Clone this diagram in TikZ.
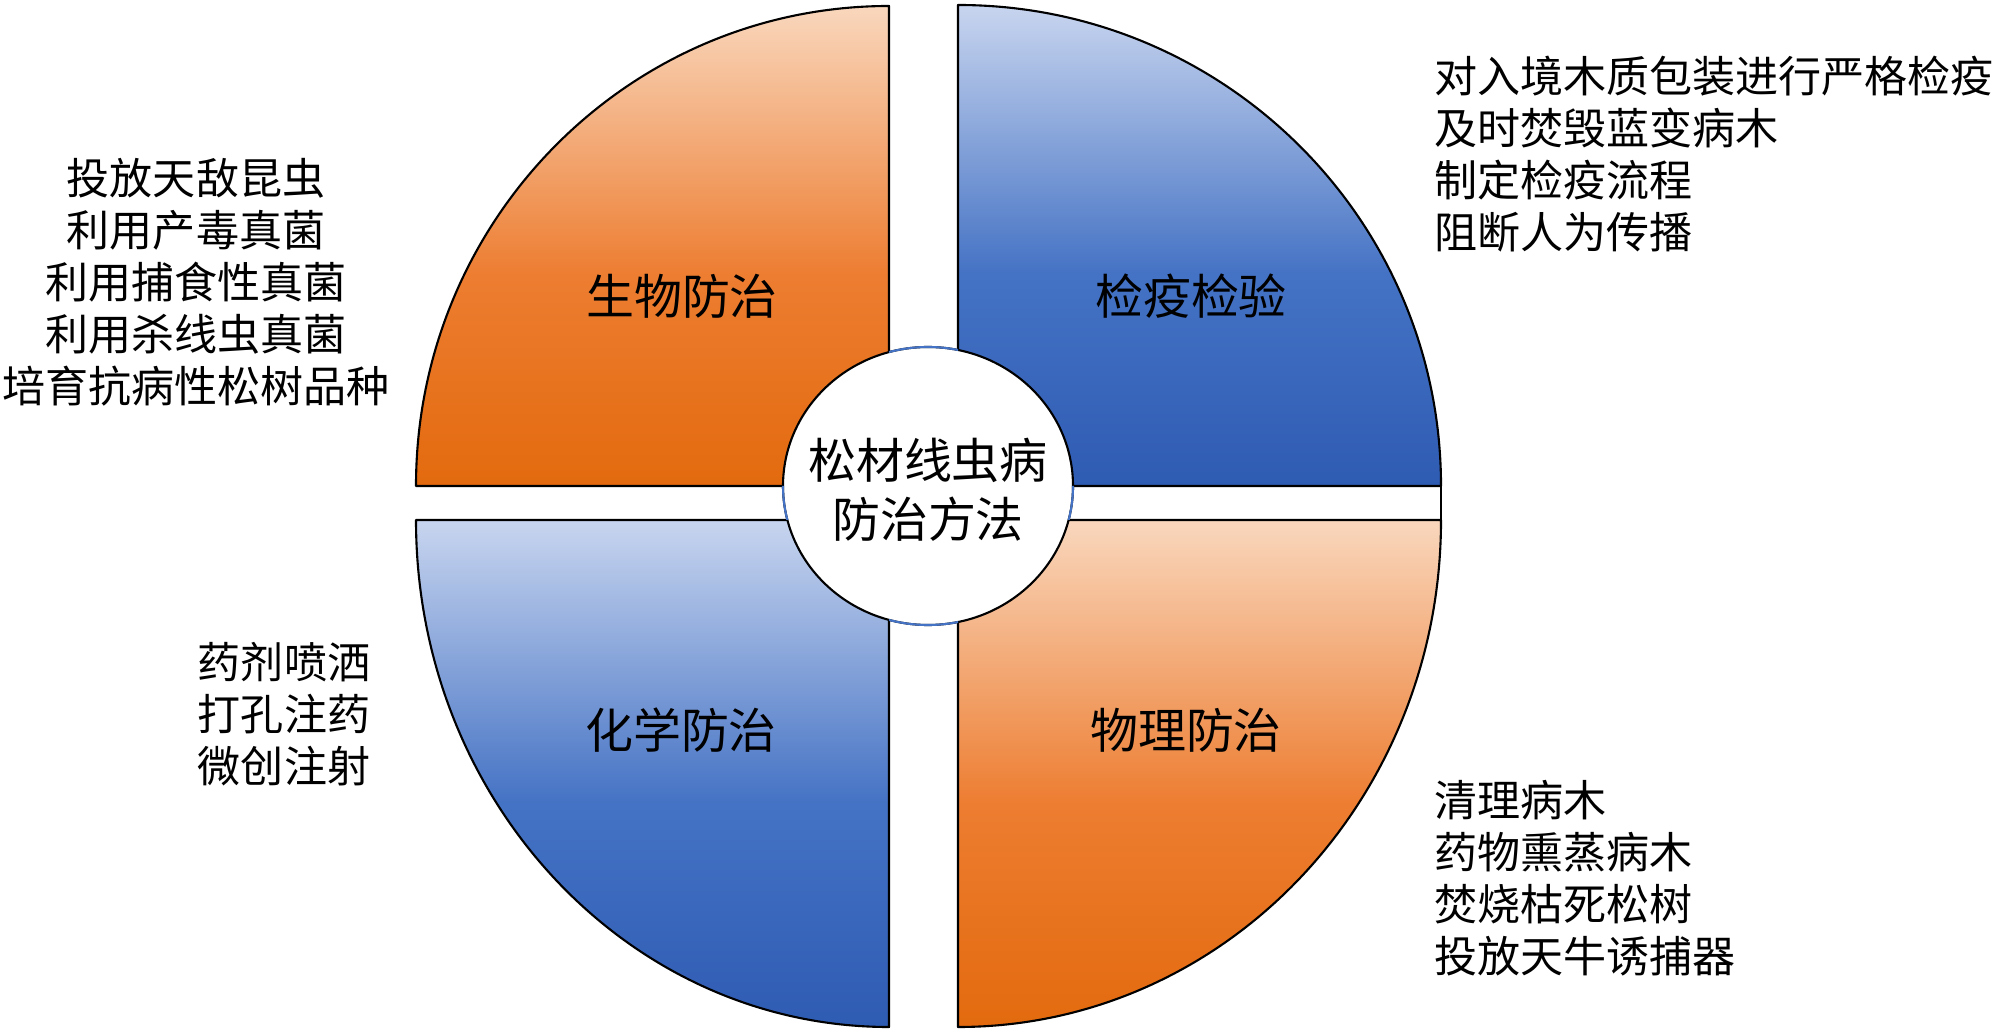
\documentclass[tikz,border=0pt]{standalone}
\usepackage{fontspec}
\newfontfamily\cjk{Noto Sans CJK SC}
\definecolor{orgtop}{HTML}{F9D7BD}
\definecolor{orgmid}{HTML}{ED7D31}
\definecolor{orgbot}{HTML}{E36A0E}
\definecolor{blutop}{HTML}{C8D5EF}
\definecolor{blumid}{HTML}{4472C4}
\definecolor{blubot}{HTML}{2F5CB3}
\definecolor{ringblue}{HTML}{4472C4}
\pgfdeclareverticalshading{orangefade}{100bp}{color(0bp)=(orgbot); color(25bp)=(orgbot); color(47bp)=(orgmid); color(75bp)=(orgtop); color(100bp)=(orgtop)}
\pgfdeclareverticalshading{bluefade}{100bp}{color(0bp)=(blubot); color(25bp)=(blubot); color(47bp)=(blumid); color(75bp)=(blutop); color(100bp)=(blutop)}
\begin{document}
\begin{tikzpicture}[x=0.02cm, y=0.02cm,
    quad/.style={draw=black, line width=1.2pt, line join=round},
    orangequad/.style={quad, shading=orangefade},
    bluequad/.style={quad, shading=bluefade},
    sectlabel/.style={font=\cjk\fontsize{27.3}{33.5}\selectfont, align=center, inner sep=0pt},
    itemlist/.style={font=\cjk\fontsize{24.5}{29.6}\selectfont, inner sep=0pt}]
    \useasboundingbox (0,0) rectangle (2000,1031);

    % The four quadrants
    \path[orangequad] (889,545) -- (889,1025) arc[start angle=90, end angle=180, x radius=473, y radius=480] -- cycle;
    \path[bluequad] (958,545) -- (1441,545) arc[start angle=0, end angle=90, x radius=483, y radius=481] -- cycle;
    \path[bluequad] (889,511) -- (416,511) arc[start angle=180, end angle=270, x radius=473, y radius=507] -- cycle;
    \path[orangequad] (958,511) -- (958,4) arc[start angle=270, end angle=360, x radius=483, y radius=507] -- cycle;
    \draw[line width=1.2pt] (1441,545) -- (1441,511);

    % Hub in the middle
    \coordinate (ctr) at (928,545);
    \draw[black, fill=white, line width=1.2pt] (ctr) ellipse [x radius=145, y radius=139];
    \begin{scope}
      \clip (889,0) rectangle (958,1031) (0,511) rectangle (2000,545);
      \draw[ringblue, line width=1.2pt] (ctr) ellipse [x radius=145, y radius=139];
    \end{scope}
    \node[sectlabel] (hub) at (928,541) {松材线虫病\\防治方法};

    % Quadrant titles
    \node[sectlabel] (bio) at (682,735) {生物防治};
    \node[sectlabel] (quar) at (1191,735) {检疫检验};
    \node[sectlabel] (chem) at (681,301) {化学防治};
    \node[sectlabel] (phys) at (1186,301) {物理防治};

    % Measures for each method
    \node[itemlist, align=center] (biolist) at (196,749) {投放天敌昆虫\\利用产毒真菌\\利用捕食性真菌\\利用杀线虫真菌\\培育抗病性松树品种};
    \node[itemlist, align=left, anchor=west] (quarlist) at (1434,877) {对入境木质包装进行严格检疫\\及时焚毁蓝变病木\\制定检疫流程\\阻断人为传播};
    \node[itemlist, align=center] (chemlist) at (284,317) {药剂喷洒\\打孔注药\\微创注射};
    \node[itemlist, align=left, anchor=west] (physlist) at (1434,153) {清理病木\\药物熏蒸病木\\焚烧枯死松树\\投放天牛诱捕器};
\end{tikzpicture}
\end{document}
